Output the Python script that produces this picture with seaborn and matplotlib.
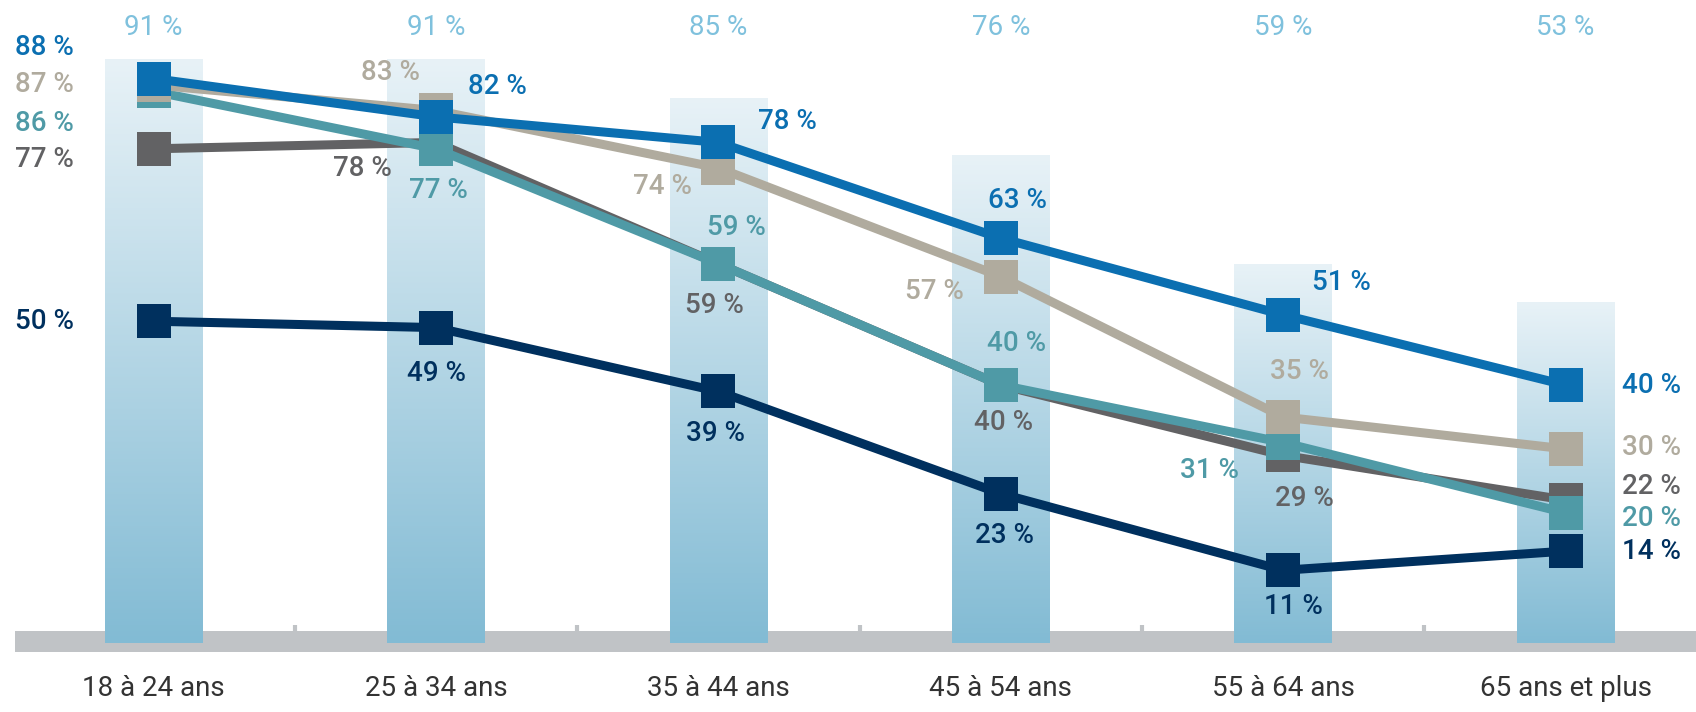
import numpy as np
import pandas as pd
import matplotlib
matplotlib.use("Agg")
import matplotlib.pyplot as plt
import matplotlib.transforms as mtrans
from matplotlib.colors import LinearSegmentedColormap
import seaborn as sns

# ---------------- data ----------------
categories = ["18 à 24 ans", "25 à 34 ans", "35 à 44 ans", "45 à 54 ans",
              "55 à 64 ans", "65 ans et plus"]
bar_values = [91, 91, 85, 76, 59, 53]

series_names = ["Série A", "Série B", "Série C", "Série D", "Série E"]
serie_a = [88, 82, 78, 63, 51, 40]   # blue
serie_b = [87, 83, 74, 57, 35, 30]   # beige
serie_c = [86, 77, 59, 40, 31, 20]   # teal
serie_d = [77, 78, 59, 40, 29, 22]   # dark grey
serie_e = [50, 49, 39, 23, 11, 14]   # navy

# ---------------- style ----------------
sns.set_theme(style="white")
plt.rcParams["font.family"] = ["Roboto", "DejaVu Sans"]

colors = {
    "Série A": "#0b6fb1",
    "Série B": "#b0ab9e",
    "Série C": "#4f9aa6",
    "Série D": "#626264",
    "Série E": "#00305e",
}
bar_label_color = "#7fc1dd"
band_color = "#c0c3c6"

# label offsets (points) relative to each marker, per series per category
lab_off = {
    "Série A": [None, (44, 22), (50, 15), (12, 27), (42, 23), None],
    "Série B": [None, (-33, 27), (-40, -13), (-48, -11), (12, 33), None],
    "Série C": [None, (2, -30), (13, 26), (11, 30), (-53, -20), None],
    "Série D": [None, (-53, -19), (-3, -30), (2, -27), (15, -31), None],
    "Série E": [None, (0, -33), (-2, -30), (3, -30), (7, -26), None],
}
left_dy = {"Série A": 22, "Série B": 0, "Série C": -23, "Série D": -8, "Série E": 0}
right_dy = {"Série A": 0, "Série B": 1, "Série C": -4, "Série D": 10, "Série E": 0}

# ---------------- figure ----------------
fig = plt.figure(figsize=(16.96, 7.12), dpi=100)
ax = fig.add_axes([0, 0.0837, 1, 0.9163])

# bars with vertical gradient
sns.barplot(x=categories, y=bar_values, width=0.345, color="#a9d2e4",
            saturation=1, ax=ax, zorder=2)
bar_patches = list(ax.patches)
cmap = LinearSegmentedColormap.from_list("g", ["#82bbd4", "#e8f2f7"])
grad = np.linspace(0, 1, 256).reshape(-1, 1)
for p in bar_patches:
    x0, y0 = p.get_x(), p.get_y()
    w, h = p.get_width(), p.get_height()
    p.set_facecolor("none")
    p.set_edgecolor("none")
    p.set_y(y0 - 0.35)
    p.set_height(h + 0.35)
    im = ax.imshow(grad, cmap=cmap, origin="lower", aspect="auto",
                   extent=[x0, x0 + w, y0 - 0.35, y0 + h], zorder=2,
                   interpolation="bicubic")
    im.set_clip_path(p)

# grey baseline band (below the bars)
ax.axhspan(-1.86, 1.52, xmin=0.009, xmax=1, color=band_color, zorder=1, lw=0)
ax.vlines(np.arange(len(categories) - 1) + 0.5, 1.0, 2.4, color=band_color,
          lw=3, zorder=1)

# lines
order = ["Série D", "Série C", "Série B", "Série A", "Série E"]
vals = {"Série A": serie_a, "Série B": serie_b, "Série C": serie_c,
        "Série D": serie_d, "Série E": serie_e}
df = pd.DataFrame({
    "cat": categories * len(series_names),
    "value": serie_a + serie_b + serie_c + serie_d + serie_e,
    "series": np.repeat(series_names, len(categories)),
})
sns.lineplot(data=df, x="cat", y="value", hue="series", hue_order=order,
             palette=colors, marker="s", markersize=24, markeredgewidth=0,
             linewidth=6.5, sort=False, legend=False, ax=ax, zorder=4)

# bar labels at the top
tr = mtrans.blended_transform_factory(ax.transData, fig.transFigure)
for i, v in enumerate(bar_values):
    ax.text(i, 0.962, f"{v} %", transform=tr, ha="center", va="center",
            fontsize=20, color=bar_label_color)

# series labels
for s in series_names:
    for i, v in enumerate(vals[s]):
        if i == 0:
            xy_off, ha = (-100, left_dy[s]), "left"
        elif i == len(categories) - 1:
            xy_off, ha = (41, right_dy[s]), "left"
        else:
            xy_off, ha = lab_off[s][i], "center"
        ax.annotate(f"{v} %", (i, v), xytext=xy_off,
                    textcoords="offset points", ha=ha, va="center",
                    fontsize=20, fontweight="medium", color=colors[s],
                    zorder=6)

ax.set_xlim(-0.544, 5.462)
ax.set_ylim(-1.86, 100.3)
ax.set_xticks(range(len(categories)))
ax.set_xticklabels(categories, fontsize=20, color="#333333")
ax.tick_params(axis="x", length=0, pad=16)
ax.set_yticks([])
ax.set_xlabel("")
ax.set_ylabel("")
for sp in ax.spines.values():
    sp.set_visible(False)
ax.set_facecolor("white")

fig.savefig("out.png", dpi=100, facecolor="white")
